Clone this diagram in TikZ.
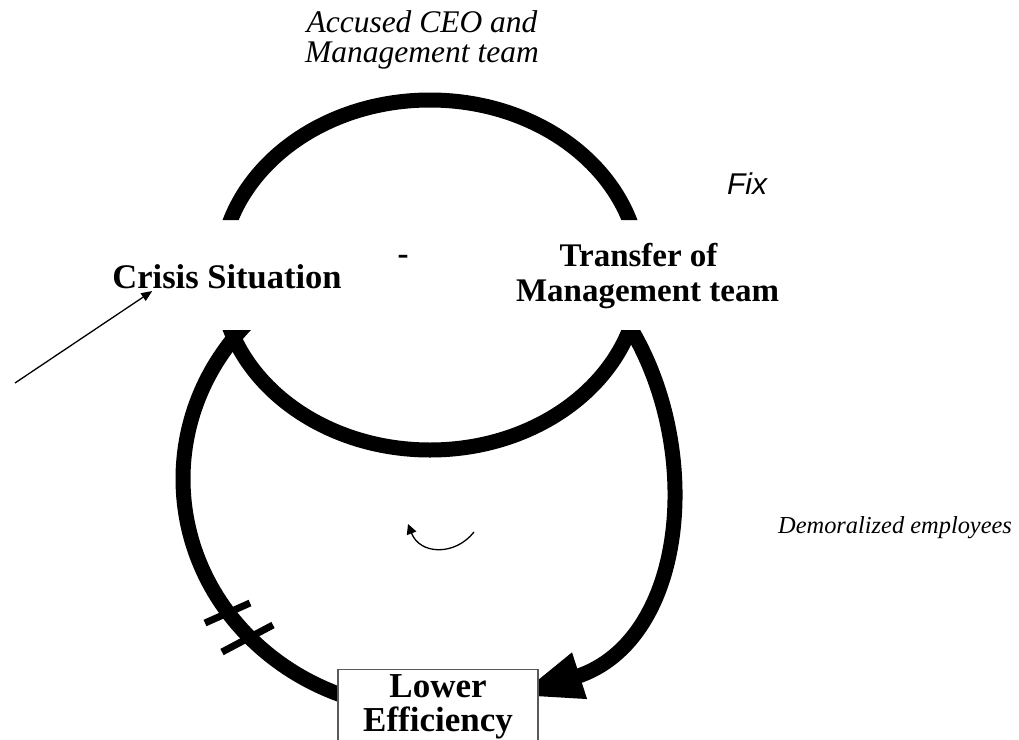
\documentclass[tikz,border=0pt]{standalone}
\usepackage{fontspec}
\setmainfont{Liberation Serif}
\setsansfont{Liberation Sans}
\usetikzlibrary{arrows.meta,calc,backgrounds}

\begin{document}
\begin{tikzpicture}[x=1pt,y=1pt,
  loopline/.style={line width=15pt},
  tickmark/.style={line width=7pt},
  thinarrow/.style={line width=1.3pt,-{Triangle[length=11pt,width=9pt]}},
  boldlabel/.style={inner sep=0pt,align=center,font=\bfseries\fontsize{33}{35}\selectfont},
  itlabel/.style={inner sep=0pt,align=center,font=\itshape\fontsize{31.5}{30}\selectfont},
  boxnode/.style={draw=black!65,line width=1.5pt,fill=white,minimum width=200pt,
    inner xsep=0pt,inner ysep=5pt,align=center,font=\bfseries\fontsize{35}{34}\selectfont}]

\useasboundingbox (0,0) rectangle (1019,-739);
\clip (0,0) rectangle (1019,-739);

% centres of the two loops
\coordinate (uc) at (430,-275);
\coordinate (lc) at (428,-479);

% labels
\node[itlabel] (accused) at (422,-40) {Accused CEO and\\Management team};
\node[inner sep=0pt,anchor=base,font=\sffamily\itshape\fontsize{30}{32}\selectfont] (fix) at (747,-194) {Fix};
\node[inner sep=0pt,anchor=base,font=\bfseries\fontsize{34.5}{36}\selectfont] (crisis) at (227,-288) {Crisis Situation};
\node[boldlabel] (transfer) at (647.5,-276.5) {Transfer of\hspace*{18pt}\\Management team};
\node[inner sep=0pt,font=\bfseries\fontsize{33}{35}\selectfont] (minus) at (403,-260) {-};
\node[inner sep=0pt,anchor=base west,font=\itshape\fontsize{24.4}{28}\selectfont] (demor) at (778,-533) {Demoralized employees};
\node[boxnode] (lower) at (438,-706.6) {Lower\\Efficiency};

% external cause
\coordinate (cause) at (15,-383);
\draw[thinarrow] (cause) -- ($(crisis.base west)+(40,-3)$);

\begin{scope}[on background layer]
  \begin{scope}
    % the loops are cut open between the two main labels
    \clip (0,0) rectangle (1019,-220) (0,-330) rectangle (1019,-739);
    \draw[loopline] (uc) ellipse [x radius=210, y radius=175];
    \draw[loopline] ($(lc)+(138:245 and 231)$)
      arc[start angle=138, end angle=255, x radius=245, y radius=231];
    \coordinate (rstart) at (624,-318);
    \coordinate (rend) at ($(lower.east)+(-22,10.6)$);
    \draw[loopline,-{Triangle[length=66pt,width=44pt]}] (rstart)
      .. controls (705,-440) and (690,-640) .. (rend);
  \end{scope}
\end{scope}

% delay marks
\draw[tickmark] (205,-623) -- (250,-603);
\draw[tickmark] (222,-652) -- (273,-625);

% balancing loop sign
\coordinate (cw1) at (474,-532);
\coordinate (cw2) at (408,-524);
\draw[line width=1.3pt,-{Triangle[length=10pt,width=10pt]}] (cw1)
  .. controls (455,-556) and (420,-555) .. (cw2);

\end{tikzpicture}
\end{document}
